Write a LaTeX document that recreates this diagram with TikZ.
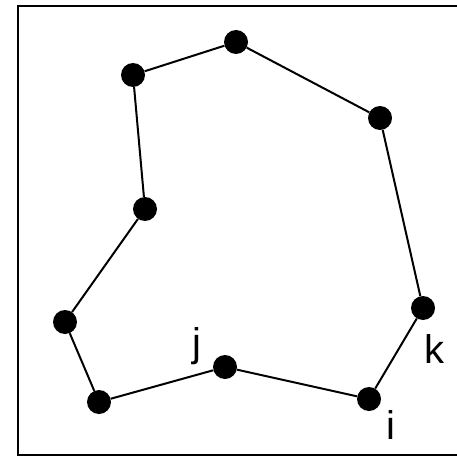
\documentclass[tikz,border=0pt]{standalone}
\usepackage{fontspec}
\setmainfont{Liberation Sans}
\usepackage{tikz}
\usetikzlibrary{positioning}

\begin{document}
\begin{tikzpicture}[
    x=1pt, y=-1pt,
    vertex/.style={
        circle,
        fill=black,
        inner sep=0pt,
        minimum size=24pt
    },
    edge/.style={
        line width=2pt
    },
    lbl/.style={
        font=\fontsize{40}{40}\selectfont,
        inner sep=0pt
    }
]

\useasboundingbox (0,0) rectangle (456,457);

% Frame
\draw[line width=2pt] (458,6) -- (18,6) -- (18,455) -- (458,455);

% Vertices
\node[vertex] (top)    at (236,42)  {};
\node[vertex] (upleft) at (133,75)  {};
\node[vertex] (upright) at (380,118) {};
\node[vertex] (mid)    at (145,209) {};
\node[vertex] (left)   at (65,322)  {};
\node[vertex] (botleft) at (99,402) {};
\node[vertex] (j)      at (225,367) {};
\node[vertex] (i)      at (369,399) {};
\node[vertex] (k)      at (423,308) {};

% Labels
\node[lbl] (jlabel) at (197,346) {j};
\node[lbl] (klabel) at (434,349) {k};
\node[lbl] (ilabel) at (391,425) {i};

% Edges
\draw[edge] (upleft) -- (top);
\draw[edge] (top) -- (upright);
\draw[edge] (upright) -- (k);
\draw[edge] (k) -- (i);
\draw[edge] (i) -- (j);
\draw[edge] (j) -- (botleft);
\draw[edge] (botleft) -- (left);
\draw[edge] (left) -- (mid);
\draw[edge] (mid) -- (upleft);

\end{tikzpicture}
\end{document}
